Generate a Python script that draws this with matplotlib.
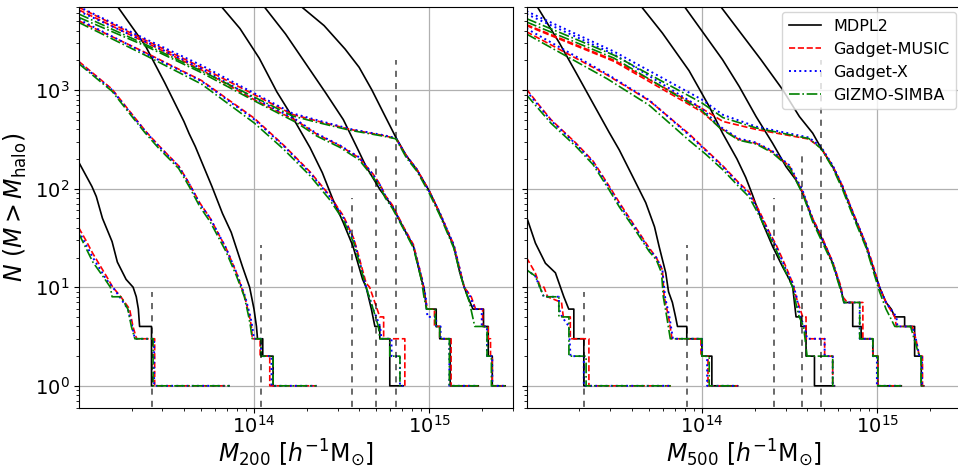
import numpy as np
import matplotlib.pyplot as plt

# cumulative halo counts N(>M); each curve is a list of (log10 M, N) vertices
# five snapshots per panel, listed from the rightmost group to the leftmost one

# ---------------- M200 panel ----------------
m200_mdpl2 = [
    [(14.25, 7500), (14.40, 4500), (14.52, 2600), (14.60, 1700), (14.673, 1000), (14.74, 580), (14.81, 330),
     (14.87, 215), (14.93, 155), (15.0, 95), (15.06, 56), (15.14, 26), (15.175, 14), (15.2, 10), (15.22, 8),
     (15.25, 6), (15.31, 6), (15.31, 4), (15.337, 4), (15.337, 2), (15.36, 2), (15.36, 1), (15.433, 1)],
    [(14.045, 7500), (14.18, 3700), (14.28, 2030), (14.41, 930), (14.51, 500), (14.585, 267), (14.64, 167),
     (14.72, 97), (14.79, 66), (14.85, 41), (14.91, 26), (14.955, 12), (14.97, 10), (14.985, 6), (15.04, 6),
     (15.04, 4), (15.06, 4), (15.06, 3), (15.12, 3), (15.12, 1), (15.28, 1)],
    [(13.80, 7500), (13.92, 4200), (14.03, 2100), (14.13, 960), (14.22, 530), (14.32, 260), (14.39, 145),
     (14.45, 78), (14.51, 45), (14.565, 26), (14.62, 12), (14.64, 10), (14.67, 6), (14.69, 4), (14.718, 4),
     (14.718, 3), (14.775, 3), (14.775, 1), (14.851, 1)],
    [(13.21, 7500), (13.38, 2810), (13.49, 1190), (13.60, 480), (13.63, 360), (13.665, 267), (13.76, 105),
     (13.82, 56), (13.87, 36), (13.935, 16), (13.975, 10), (14.0, 6), (14.014, 4), (14.02, 3), (14.05, 3),
     (14.05, 2), (14.109, 2), (14.109, 1), (14.12, 1)],
    [(13.0, 185), (13.075, 105), (13.10, 83), (13.135, 50), (13.19, 29), (13.22, 18), (13.27, 12), (13.31, 10),
     (13.328, 8), (13.34, 6), (13.347, 4), (13.415, 4), (13.415, 1), (13.42, 1)],
]
m200_music = [
    [(13.0, 6900), (13.38, 3200), (13.7, 1700), (14.0, 900), (14.22, 565), (14.36, 485), (14.55, 398),
     (14.74, 345), (14.81, 322), (14.87, 215), (14.93, 157), (15.0, 95), (15.06, 57), (15.14, 27), (15.18, 14),
     (15.2, 10), (15.24, 8), (15.265, 6), (15.305, 6), (15.305, 4), (15.337, 4), (15.337, 3), (15.35, 3),
     (15.35, 2), (15.36, 2), (15.36, 1), (15.433, 1)],
    [(13.0, 6500), (13.38, 3050), (13.7, 1600), (14.0, 800), (14.24, 490), (14.36, 355), (14.49, 272),
     (14.60, 205), (14.68, 140), (14.72, 110), (14.75, 85), (14.79, 68), (14.85, 42), (14.91, 27), (14.96, 12),
     (14.975, 8), (14.99, 6), (15.03, 6), (15.03, 4), (15.06, 4), (15.06, 3), (15.125, 3), (15.125, 1),
     (15.28, 1)],
    [(13.0, 5030), (13.38, 2400), (13.7, 1250), (14.0, 520), (14.17, 275), (14.32, 148), (14.43, 86),
     (14.51, 53), (14.57, 31), (14.60, 20), (14.64, 11), (14.66, 10), (14.69, 7), (14.718, 5), (14.74, 5),
     (14.74, 3), (14.861, 3), (14.861, 1)],
    [(13.0, 1950), (13.19, 1020), (13.31, 550), (13.38, 385), (13.455, 275), (13.57, 170), (13.63, 113),
     (13.69, 72), (13.75, 50), (13.84, 25), (13.90, 14), (13.947, 8), (13.975, 5), (13.985, 4), (13.99, 3),
     (14.035, 3), (14.035, 2), (14.09, 2), (14.09, 1), (14.357, 1)],
    [(13.0, 40), (13.04, 30), (13.08, 22), (13.157, 13), (13.194, 10), (13.24, 8), (13.29, 6), (13.309, 4),
     (13.33, 3), (13.433, 3), (13.433, 1), (13.861, 1)],
]
m200_gx = [
    [(13.0, 7000), (13.38, 3300), (13.7, 1780), (14.0, 930), (14.22, 580), (14.36, 495), (14.55, 402),
     (14.74, 348), (14.81, 325), (14.87, 214), (14.93, 156), (15.0, 94), (15.06, 57), (15.14, 27), (15.18, 14),
     (15.2, 10), (15.235, 8), (15.26, 6), (15.30, 6), (15.30, 4), (15.33, 4), (15.33, 2), (15.36, 2),
     (15.36, 1), (15.433, 1)],
    [(13.0, 6300), (13.38, 3100), (13.7, 1650), (14.0, 830), (14.24, 500), (14.36, 360), (14.49, 275),
     (14.60, 208), (14.68, 138), (14.72, 108), (14.75, 84), (14.79, 66), (14.85, 41), (14.91, 26), (14.96, 12),
     (14.98, 8), (14.99, 5), (15.04, 5), (15.04, 4), (15.065, 4), (15.065, 3), (15.115, 3), (15.115, 1),
     (15.28, 1)],
    [(13.0, 5200), (13.38, 2350), (13.7, 1230), (14.0, 505), (14.17, 270), (14.32, 144), (14.43, 84),
     (14.51, 51), (14.57, 30), (14.60, 19), (14.64, 10), (14.68, 6), (14.72, 4), (14.727, 3), (14.785, 3),
     (14.785, 2), (14.833, 2), (14.833, 1), (14.851, 1)],
    [(13.0, 1900), (13.19, 1000), (13.31, 540), (13.38, 380), (13.455, 270), (13.57, 168), (13.63, 112),
     (13.69, 70), (13.75, 50), (13.84, 25), (13.90, 14), (13.95, 8), (13.98, 5), (13.99, 4), (14.0, 3),
     (14.04, 3), (14.04, 2), (14.10, 2), (14.10, 1), (14.357, 1)],
    [(13.0, 37), (13.08, 20), (13.157, 12), (13.194, 10), (13.233, 8), (13.28, 6), (13.305, 4), (13.32, 3),
     (13.43, 3), (13.43, 1), (13.861, 1)],
]
m200_simba = [
    [(13.0, 5900), (13.38, 2900), (13.7, 1560), (14.0, 850), (14.22, 545), (14.36, 470), (14.55, 390),
     (14.74, 340), (14.81, 320), (14.87, 205), (14.93, 150), (15.0, 90), (15.06, 54), (15.14, 25), (15.18, 13),
     (15.2, 10), (15.23, 7), (15.26, 4), (15.33, 4), (15.33, 2), (15.355, 2), (15.355, 1), (15.433, 1)],
    [(13.0, 5450), (13.38, 2800), (13.7, 1500), (14.0, 780), (14.24, 470), (14.36, 340), (14.49, 262),
     (14.60, 196), (14.68, 130), (14.72, 104), (14.75, 80), (14.79, 63), (14.85, 40), (14.91, 25),
     (14.955, 12), (14.97, 8), (14.985, 6), (15.035, 6), (15.035, 4), (15.06, 4), (15.06, 3), (15.115, 3),
     (15.115, 1), (15.28, 1)],
    [(13.0, 4840), (13.38, 2250), (13.7, 1150), (14.0, 465), (14.17, 250), (14.32, 135), (14.43, 78),
     (14.51, 48), (14.57, 28), (14.60, 18), (14.64, 10), (14.68, 6), (14.71, 4), (14.718, 3), (14.775, 3),
     (14.775, 2), (14.833, 2), (14.833, 1), (14.851, 1)],
    [(13.0, 1850), (13.19, 970), (13.31, 520), (13.38, 365), (13.455, 258), (13.57, 160), (13.63, 105),
     (13.69, 66), (13.75, 46), (13.84, 23), (13.90, 13), (13.945, 8), (13.97, 5), (13.98, 4), (13.99, 3),
     (14.04, 3), (14.04, 2), (14.109, 2), (14.109, 1), (14.357, 1)],
    [(13.0, 35), (13.08, 18), (13.15, 12), (13.18, 10), (13.19, 8), (13.24, 8), (13.28, 6), (13.30, 4),
     (13.32, 3), (13.424, 3), (13.424, 1), (13.861, 1)],
]
m200_cut = [13.417, 14.038, 14.56, 14.694, 14.808]

# ---------------- M500 panel ----------------
m500_mdpl2 = [
    [(14.095, 7500), (14.337, 2030), (14.461, 1005), (14.556, 538), (14.632, 365), (14.68, 257), (14.746, 167),
     (14.80, 105), (14.861, 56), (14.937, 26), (14.975, 16), (15.013, 10), (15.05, 7), (15.08, 6), (15.1, 5),
     (15.156, 5), (15.156, 4), (15.213, 4), (15.213, 2), (15.251, 2), (15.251, 1), (15.265, 1)],
    [(13.889, 7500), (14.118, 2030), (14.213, 1086), (14.309, 538), (14.403, 289), (14.48, 167), (14.537, 122),
     (14.575, 90), (14.632, 48), (14.689, 30), (14.746, 17.5), (14.794, 9.4), (14.81, 7), (14.86, 7),
     (14.86, 4), (14.908, 4), (14.908, 3), (14.975, 3), (14.975, 2), (15.003, 2), (15.003, 1), (15.137, 1)],
    [(13.642, 7500), (13.775, 3780), (13.927, 1570), (14.042, 680), (14.118, 365), (14.20, 200), (14.25, 130),
     (14.29, 85), (14.346, 45), (14.403, 26), (14.461, 16), (14.499, 12), (14.518, 10), (14.537, 5),
     (14.565, 5), (14.565, 4), (14.594, 4), (14.594, 2), (14.642, 2), (14.642, 1), (14.756, 1)],
    [(13.051, 7500), (13.186, 3035), (13.282, 1506), (13.377, 746), (13.472, 370), (13.529, 247), (13.606, 132),
     (13.68, 72), (13.73, 41), (13.756, 26), (13.794, 14), (13.81, 9), (13.832, 7), (13.85, 5), (13.861, 4),
     (13.914, 4), (13.914, 3), (14.0, 3), (14.0, 2), (14.057, 2), (14.057, 1), (14.204, 1)],
    [(13.0, 52), (13.051, 28), (13.108, 17.5), (13.165, 14), (13.213, 8), (13.241, 6), (13.27, 6), (13.27, 3),
     (13.327, 3), (13.327, 1), (13.335, 1)],
]
m500_music = [
    [(13.0, 4600), (13.5, 2000), (14.0, 650), (14.12, 480), (14.31, 398), (14.5, 345), (14.61, 318),
     (14.68, 257), (14.746, 170), (14.80, 108), (14.861, 58), (14.937, 27), (14.975, 17), (15.013, 10),
     (15.05, 7), (15.1, 5), (15.109, 4), (15.2, 4), (15.22, 3), (15.24, 2), (15.258, 2), (15.258, 1),
     (15.265, 1)],
    [(13.0, 4500), (13.5, 1950), (14.0, 600), (14.1, 420), (14.21, 315), (14.31, 288), (14.40, 238),
     (14.50, 168), (14.575, 92), (14.632, 50), (14.689, 31), (14.746, 18), (14.794, 10), (14.803, 8),
     (14.83, 7), (14.918, 7), (14.918, 3), (14.975, 3), (14.975, 2), (15.003, 2), (15.003, 1), (15.137, 1)],
    [(13.0, 3900), (13.46, 1420), (13.7, 780), (13.93, 355), (14.02, 250), (14.12, 170), (14.21, 115),
     (14.27, 92), (14.33, 58), (14.385, 36), (14.423, 27), (14.48, 16), (14.518, 11), (14.537, 8), (14.575, 5),
     (14.594, 5), (14.594, 3), (14.70, 3), (14.70, 2), (14.746, 2), (14.746, 1), (14.756, 1)],
    [(13.0, 1020), (13.07, 710), (13.14, 500), (13.28, 292), (13.38, 190), (13.47, 107), (13.53, 72),
     (13.62, 41), (13.70, 25), (13.74, 20), (13.775, 15), (13.785, 8), (13.81, 5), (13.83, 3), (13.995, 3),
     (13.995, 2), (14.035, 2), (14.035, 1), (14.204, 1)],
    [(13.0, 20), (13.05, 14), (13.08, 10), (13.10, 10), (13.12, 8), (13.2, 7), (13.21, 5), (13.25, 5),
     (13.25, 3), (13.356, 3), (13.356, 1), (13.823, 1)],
]
m500_gx = [
    [(13.0, 6300), (13.5, 2450), (14.0, 800), (14.12, 560), (14.31, 425), (14.5, 362), (14.61, 330),
     (14.68, 265), (14.746, 172), (14.80, 108), (14.861, 57), (14.937, 27), (14.975, 16), (15.013, 10),
     (15.05, 7), (15.109, 5), (15.115, 4), (15.2, 4), (15.22, 3), (15.24, 2), (15.255, 2), (15.255, 1),
     (15.265, 1)],
    [(13.0, 5900), (13.5, 2300), (14.0, 650), (14.1, 430), (14.21, 322), (14.31, 293), (14.40, 242),
     (14.50, 172), (14.575, 95), (14.632, 49), (14.689, 30), (14.746, 18), (14.794, 9.5), (14.81, 7),
     (14.9, 7), (14.9, 3), (14.975, 3), (14.975, 2), (14.998, 2), (14.998, 1), (15.137, 1)],
    [(13.0, 4200), (13.46, 1450), (13.7, 790), (13.93, 345), (14.02, 245), (14.12, 166), (14.21, 112),
     (14.27, 88), (14.33, 56), (14.385, 35), (14.423, 26), (14.48, 15), (14.518, 11), (14.54, 8), (14.56, 5),
     (14.585, 4), (14.6, 3), (14.7, 3), (14.7, 2), (14.746, 2), (14.746, 1), (14.756, 1)],
    [(13.0, 980), (13.07, 690), (13.14, 490), (13.28, 285), (13.38, 185), (13.47, 103), (13.53, 69),
     (13.62, 40), (13.70, 24), (13.74, 20), (13.775, 15), (13.79, 8), (13.815, 5), (13.835, 3), (14.0, 3),
     (14.0, 2), (14.03, 2), (14.03, 1), (14.204, 1)],
    [(13.0, 15), (13.05, 13), (13.099, 8), (13.185, 8), (13.185, 6), (13.203, 5), (13.242, 4), (13.251, 2),
     (13.327, 2), (13.327, 1), (13.823, 1)],
]
m500_simba = [
    [(13.0, 5300), (13.5, 2250), (14.0, 740), (14.12, 525), (14.31, 412), (14.5, 352), (14.61, 322),
     (14.68, 255), (14.746, 162), (14.80, 100), (14.861, 53), (14.937, 25), (14.975, 15), (15.013, 9),
     (15.05, 6), (15.1, 4), (15.19, 4), (15.21, 3), (15.24, 2), (15.25, 2), (15.25, 1), (15.265, 1)],
    [(13.0, 4900), (13.5, 2100), (14.0, 620), (14.1, 415), (14.21, 310), (14.31, 283), (14.40, 232),
     (14.50, 163), (14.575, 88), (14.632, 46), (14.689, 28), (14.746, 17), (14.794, 9), (14.81, 7), (14.9, 7),
     (14.9, 3), (14.975, 3), (14.975, 2), (15.003, 2), (15.003, 1), (15.137, 1)],
    [(13.0, 3700), (13.46, 1300), (13.7, 700), (13.93, 305), (14.02, 225), (14.12, 155), (14.21, 105),
     (14.27, 82), (14.33, 52), (14.385, 33), (14.423, 24), (14.48, 14), (14.518, 10), (14.535, 7),
     (14.555, 5), (14.58, 4), (14.6, 2), (14.746, 2), (14.746, 1), (14.756, 1)],
    [(13.0, 894), (13.07, 640), (13.14, 460), (13.28, 270), (13.38, 175), (13.47, 98), (13.53, 65),
     (13.62, 38), (13.70, 23), (13.74, 19), (13.77, 14), (13.78, 8), (13.80, 5), (13.82, 3), (14.0, 3),
     (14.0, 2), (14.042, 2), (14.042, 1), (14.204, 1)],
    [(13.0, 15), (13.05, 13), (13.099, 8), (13.185, 8), (13.185, 5), (13.242, 5), (13.242, 2), (13.34, 2),
     (13.34, 1), (13.823, 1)],
]
m500_cut = [13.327, 13.914, 14.413, 14.571, 14.68]

# height of the dashed mass-limit markers (same in both panels)
cut_top = [9, 27, 80, 240, 2000]

sims = ['MDPL2', 'Gadget-MUSIC', 'Gadget-X', 'GIZMO-SIMBA']
styles = [dict(color='k', ls='-', lw=1.2),
          dict(color='r', ls='--', lw=1.2),
          dict(color='b', ls=':', lw=1.4),
          dict(color='g', ls='-.', lw=1.2)]

fig = plt.figure(figsize=(9.58, 4.67), dpi=100)
# the right panel runs slightly past the right edge of the picture, as in the original crop
ax1 = fig.add_axes([0.0828, 0.127, 0.4530, 0.8587])
ax2 = fig.add_axes([0.5501, 0.127, 0.4535, 0.8587], sharey=ax1)

panels = [(ax1, [m200_mdpl2, m200_music, m200_gx, m200_simba], m200_cut, r'$M_{200}\ [h^{-1}{\rm M}_{\odot}]$'),
          (ax2, [m500_mdpl2, m500_music, m500_gx, m500_simba], m500_cut, r'$M_{500}\ [h^{-1}{\rm M}_{\odot}]$')]

for ax, data, cuts, xlab in panels:
    for sim, st, curves in zip(sims, styles, data):
        for i, c in enumerate(curves):
            lm, n = np.array(c).T
            ax.plot(10**lm, n, label=sim if i == 0 else None, **st)
    ax.vlines(10**np.array(cuts), 0.1, cut_top, colors='k', linestyles=(0, (4, 4)), lw=1.1, alpha=0.75)
    ax.set_xscale('log')
    ax.set_yscale('log')
    ax.set_xlim(10**13.003, 10**15.48)
    ax.set_ylim(0.6, 7000)
    ax.grid(True, which='major', color='#b0b0b0', lw=0.9)
    ax.set_xlabel(xlab, fontsize=17, labelpad=0)
    ax.tick_params(labelsize=14)
    ax.tick_params(axis='x', pad=2)

ax1.set_ylabel(r'$N\ (M > M_{\rm halo})$', fontsize=17)
plt.setp(ax2.get_yticklabels(), visible=False)
ax2.legend(loc='upper right', fontsize=11.5, borderaxespad=0.35)

fig.savefig('out.png', dpi=100)
